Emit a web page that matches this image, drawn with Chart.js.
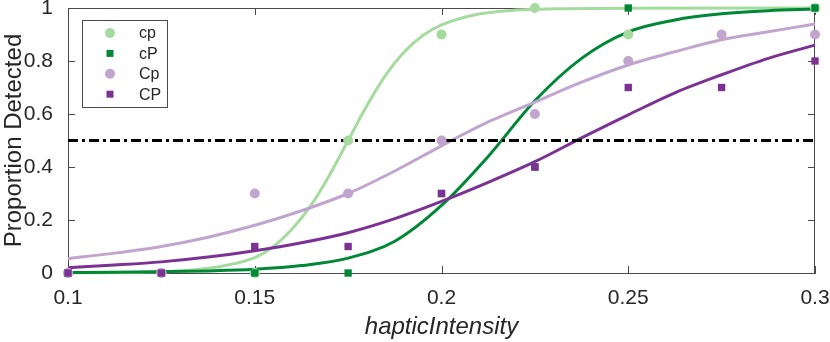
<!DOCTYPE html>
<html>
<head>
<meta charset="utf-8">
<script src="https://cdn.jsdelivr.net/npm/chart.js@4"></script>
<style>
  html, body { margin: 0; padding: 0; background: #fff; }
  #wrap { width: 830px; height: 342px; }
</style>
</head>
<body>
<div id="wrap"><canvas id="chart"></canvas></div>
<script>
// stimulus levels and observed proportions
const levels = [0.1, 0.125, 0.15, 0.175, 0.2, 0.225, 0.25, 0.275, 0.3];
const cpObs = [0, 0, 0, 0.5, 0.9, 1, 0.9, null, 1];
const cPObs = [0, 0, 0, 0, 0.3, 0.4, 1, null, 1];
const CpObs = [0, 0, 0.3, 0.3, 0.5, 0.6, 0.8, 0.9, 0.9];
const CPObs = [0, 0, 0.1, 0.1, 0.3, 0.4, 0.7, 0.7, 0.8];

// fitted curves
const cpFitX = [0.1, 0.12, 0.13, 0.14, 0.15, 0.155, 0.16, 0.165, 0.17, 0.175, 0.18, 0.185, 0.19, 0.195, 0.2, 0.21, 0.22, 0.23, 0.25, 0.3];
const cpFitY = [0.0005, 0.003, 0.008, 0.023, 0.058, 0.10, 0.166, 0.254, 0.369, 0.5, 0.631, 0.746, 0.834, 0.896, 0.936, 0.977, 0.992, 0.997, 0.9995, 1.0];
const fitX = [0.1, 0.1125, 0.125, 0.1375, 0.15, 0.1625, 0.175, 0.1875, 0.2, 0.2125, 0.225, 0.2375, 0.25, 0.2625, 0.275, 0.2875, 0.3];
const cPFitY = [0.002, 0.003, 0.005, 0.008, 0.014, 0.028, 0.056, 0.12, 0.255, 0.44, 0.65, 0.81, 0.91, 0.955, 0.978, 0.99, 0.996];
const CpFitY = [0.055, 0.075, 0.10, 0.135, 0.18, 0.235, 0.30, 0.385, 0.48, 0.57, 0.645, 0.72, 0.785, 0.835, 0.88, 0.91, 0.94];
const CPFitY = [0.02, 0.03, 0.042, 0.06, 0.084, 0.114, 0.152, 0.205, 0.27, 0.342, 0.42, 0.51, 0.597, 0.68, 0.748, 0.81, 0.86];

const threshold = 0.5;
const xTicks = [0.1, 0.15, 0.2, 0.25, 0.3];
const yTicks = [0, 0.2, 0.4, 0.6, 0.8, 1];

const colors = { cp: "#a6dba0", cP: "#008837", Cp: "#c2a5cf", CP: "#7b3294" };
const frameColor = "#4a4a4a";
const textColor = "#262626";
const family = "'Liberation Sans', Arial, sans-serif";

const pts = (xs, ys) => xs.map((x, i) => ({ x: x, y: ys[i] }));

function curve(label, xs, ys, color, order) {
  return {
    label: label, data: pts(xs, ys), showLine: true,
    borderColor: color, borderWidth: 3, pointRadius: 0,
    cubicInterpolationMode: "monotone", order: order, clip: false, legendSkip: true
  };
}
function marks(label, ys, color, style, r, order) {
  return {
    label: label, data: pts(levels, ys), showLine: false,
    pointStyle: style, pointRadius: r, pointHoverRadius: r,
    backgroundColor: color, borderColor: color, borderWidth: 0,
    order: order, clip: false
  };
}

// inward ticks, top/right frame and legend box
const framePlugin = {
  id: "frame",
  beforeDatasetsDraw(chart) {
    const { ctx, chartArea: a, scales: { x, y } } = chart;
    ctx.save();
    ctx.strokeStyle = frameColor;
    ctx.lineWidth = 1;
    ctx.beginPath();
    ctx.moveTo(a.left, a.top + 0.5); ctx.lineTo(a.right, a.top + 0.5);
    ctx.moveTo(a.right - 0.5, a.top); ctx.lineTo(a.right - 0.5, a.bottom);
    xTicks.forEach(v => {
      const px = Math.round(x.getPixelForValue(v)) + 0.5;
      ctx.moveTo(px, a.bottom); ctx.lineTo(px, a.bottom - 7);
      ctx.moveTo(px, a.top); ctx.lineTo(px, a.top + 7);
    });
    yTicks.forEach(v => {
      const py = Math.round(y.getPixelForValue(v)) + 0.5;
      ctx.moveTo(a.left, py); ctx.lineTo(a.left + 7, py);
      ctx.moveTo(a.right, py); ctx.lineTo(a.right - 7, py);
    });
    ctx.stroke();
    ctx.restore();
  },
  afterDatasetsDraw(chart) {
    const ctx = chart.ctx;
    const items = chart.data.datasets.filter(d => !d.legendSkip && d.label);
    const bx = 82.5, by = 20.5, bw = 85, bh = 87;
    ctx.save();
    ctx.fillStyle = "#fff";
    ctx.fillRect(bx, by, bw, bh);
    ctx.strokeStyle = frameColor;
    ctx.lineWidth = 1;
    ctx.strokeRect(bx, by, bw, bh);
    ctx.font = "16px " + family;
    ctx.textBaseline = "middle";
    items.forEach((d, i) => {
      const cy = 33 + i * 20.4;
      ctx.fillStyle = d.backgroundColor;
      if (d.pointStyle === "circle") {
        ctx.beginPath(); ctx.arc(110, cy, 5, 0, Math.PI * 2); ctx.fill();
      } else {
        ctx.fillRect(106.5, cy - 3.5, 7, 7);
      }
      ctx.fillStyle = textColor;
      ctx.fillText(d.label, 139, cy + 1);
    });
    ctx.restore();
  }
};

new Chart(document.getElementById("chart"), {
  type: "scatter",
  data: {
    datasets: [
      marks("cp", cpObs, colors.cp, "circle", 5, 4),
      marks("cP", cPObs, colors.cP, "rect", 5.2, 3),
      marks("Cp", CpObs, colors.Cp, "circle", 5, 2),
      marks("CP", CPObs, colors.CP, "rect", 5.2, 1),
      {
        label: "threshold", legendSkip: true,
        data: [{ x: 0.1, y: threshold }, { x: 0.3, y: threshold }],
        showLine: true, borderColor: "#000", borderWidth: 3,
        borderDash: [10, 4, 3, 4], pointRadius: 0, order: 5
      },
      curve("cp fit", cpFitX, cpFitY, colors.cp, 9),
      curve("cP fit", fitX, cPFitY, colors.cP, 8),
      curve("Cp fit", fitX, CpFitY, colors.Cp, 7),
      curve("CP fit", fitX, CPFitY, colors.CP, 6)
    ]
  },
  options: {
    responsive: true,
    maintainAspectRatio: false,
    animation: false,
    layout: { padding: { top: 8, right: 15, left: 0, bottom: 0 } },
    plugins: { legend: { display: false }, tooltip: { enabled: false } },
    scales: {
      x: {
        type: "linear", min: 0.1, max: 0.3,
        afterBuildTicks: s => { s.ticks = xTicks.map(v => ({ value: v })); },
        afterFit: s => { s.height = 69; s.paddingLeft = 0; s.paddingRight = 0; },
        grid: { display: false },
        border: { display: true, color: frameColor, width: 1 },
        ticks: {
          padding: 5, color: textColor, maxRotation: 0,
          font: { family: family, size: 21 },
          callback: v => String(v)
        },
        title: {
          display: true, text: "hapticIntensity", color: textColor, padding: { top: 0, bottom: 0 },
          font: { family: family, size: 24, style: "italic" }
        }
      },
      y: {
        type: "linear", min: 0, max: 1,
        afterBuildTicks: s => { s.ticks = yTicks.map(v => ({ value: v })); },
        afterFit: s => { s.width = 68; s.paddingTop = 0; s.paddingBottom = 0; },
        grid: { display: false },
        border: { display: true, color: frameColor, width: 1 },
        ticks: {
          padding: 7, color: textColor,
          font: { family: family, size: 21 },
          callback: v => String(v)
        },
        title: {
          display: true, text: "Proportion Detected", color: textColor, padding: { top: 0, bottom: 0 },
          font: { family: family, size: 24 }
        }
      }
    }
  },
  plugins: [framePlugin]
});
</script>
</body>
</html>
